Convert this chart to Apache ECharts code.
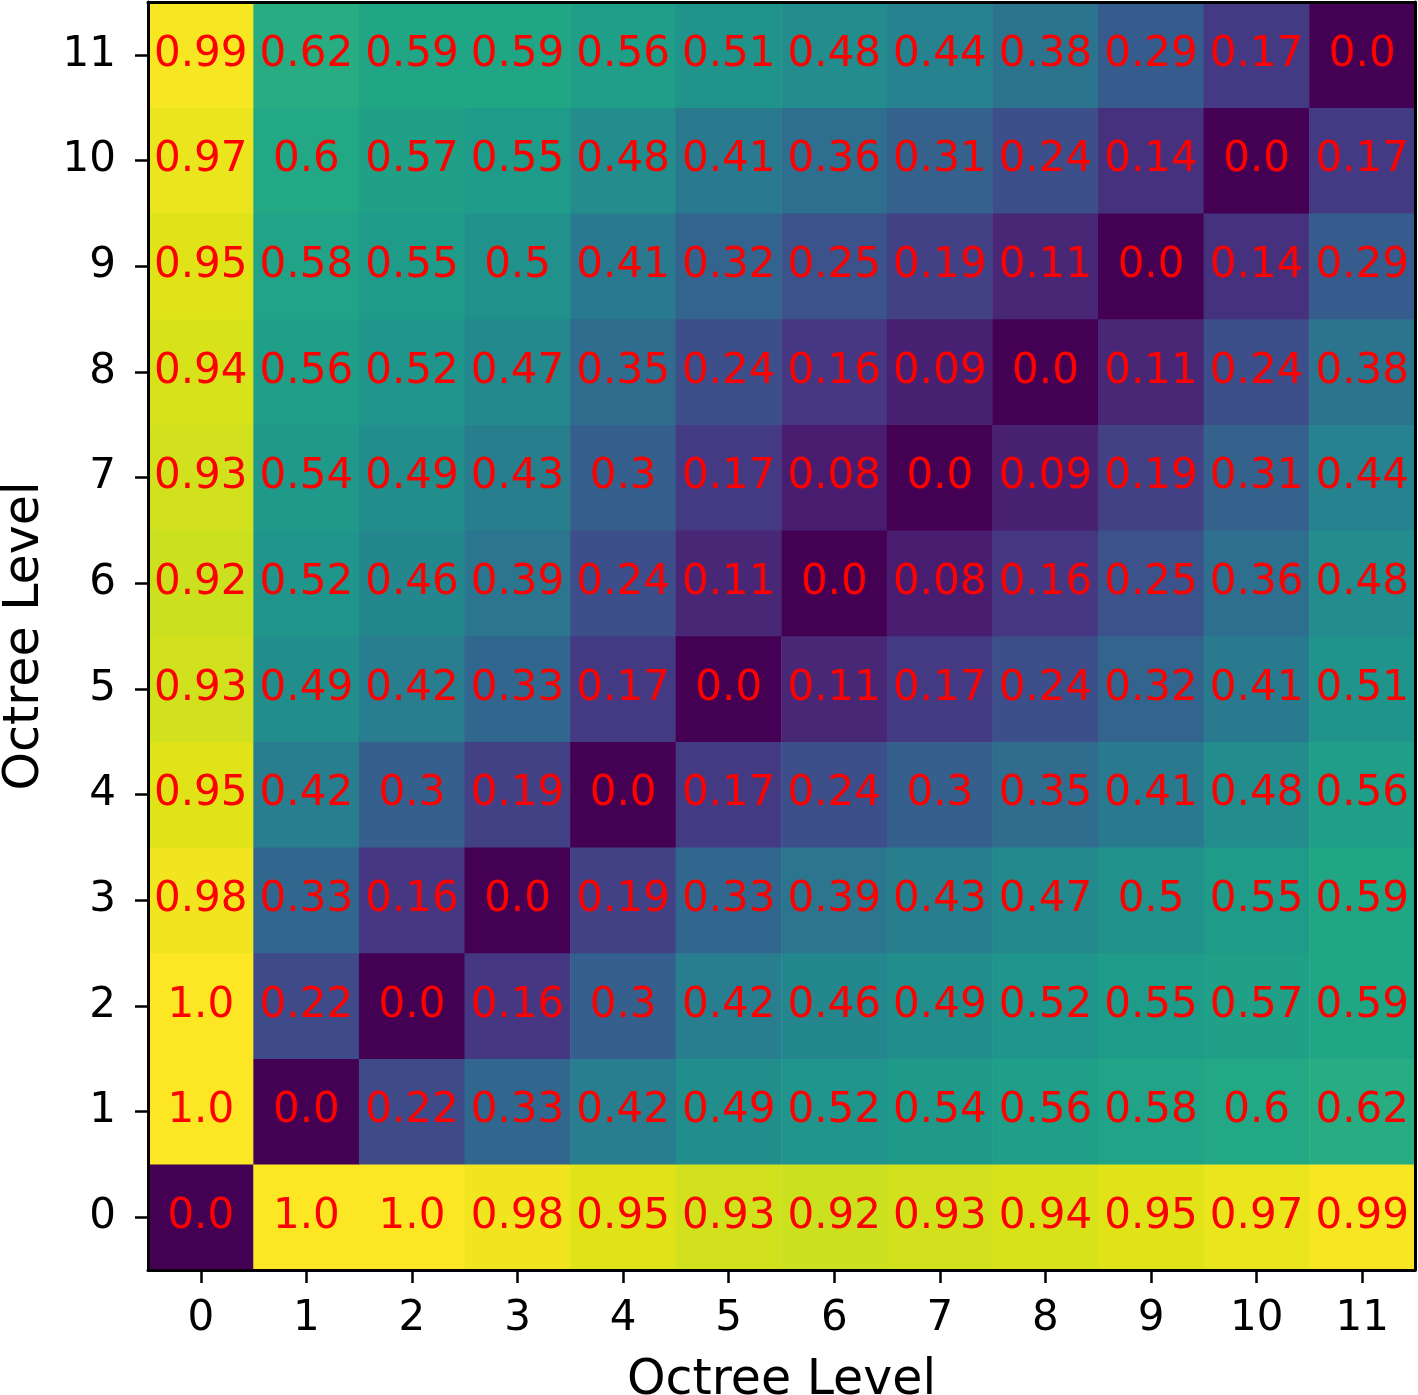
<!DOCTYPE html>
<html>
<head>
<meta charset="utf-8">
<script src="https://cdn.jsdelivr.net/npm/echarts@6/dist/echarts.min.js"></script>
<style>
html,body{margin:0;padding:0;background:#fff;}
#c{width:1418px;height:1395px;}
</style>
</head>
<body>
<div id="c"></div>
<script>
// categories (octree levels)
const levels = ['0','1','2','3','4','5','6','7','8','9','10','11'];
// matrix rows: index = y level (0 at bottom), columns = x level
const row0  = [0.0, 1.0, 1.0, 0.98, 0.95, 0.93, 0.92, 0.93, 0.94, 0.95, 0.97, 0.99];
const row1  = [1.0, 0.0, 0.22, 0.33, 0.42, 0.49, 0.52, 0.54, 0.56, 0.58, 0.6, 0.62];
const row2  = [1.0, 0.22, 0.0, 0.16, 0.3, 0.42, 0.46, 0.49, 0.52, 0.55, 0.57, 0.59];
const row3  = [0.98, 0.33, 0.16, 0.0, 0.19, 0.33, 0.39, 0.43, 0.47, 0.5, 0.55, 0.59];
const row4  = [0.95, 0.42, 0.3, 0.19, 0.0, 0.17, 0.24, 0.3, 0.35, 0.41, 0.48, 0.56];
const row5  = [0.93, 0.49, 0.42, 0.33, 0.17, 0.0, 0.11, 0.17, 0.24, 0.32, 0.41, 0.51];
const row6  = [0.92, 0.52, 0.46, 0.39, 0.24, 0.11, 0.0, 0.08, 0.16, 0.25, 0.36, 0.48];
const row7  = [0.93, 0.54, 0.49, 0.43, 0.3, 0.17, 0.08, 0.0, 0.09, 0.19, 0.31, 0.44];
const row8  = [0.94, 0.56, 0.52, 0.47, 0.35, 0.24, 0.16, 0.09, 0.0, 0.11, 0.24, 0.38];
const row9  = [0.95, 0.58, 0.55, 0.5, 0.41, 0.32, 0.25, 0.19, 0.11, 0.0, 0.14, 0.29];
const row10 = [0.97, 0.6, 0.57, 0.55, 0.48, 0.41, 0.36, 0.31, 0.24, 0.14, 0.0, 0.17];
const row11 = [0.99, 0.62, 0.59, 0.59, 0.56, 0.51, 0.48, 0.44, 0.38, 0.29, 0.17, 0.0];
const rows = [row0,row1,row2,row3,row4,row5,row6,row7,row8,row9,row10,row11];

const viridis = ['#440154','#471365','#482475','#463480','#414487','#3b528b','#355f8d','#2f6c8e','#2a788e','#25848e','#21918c','#1e9c89','#22a884','#2fb47c','#44bf70','#5ec962','#7ad151','#9bd93c','#bddf26','#dfe318','#fde725'];

const data = [];
rows.forEach((r, y) => r.forEach((v, x) => data.push([x, y, v])));

function fmt(v){ return Number.isInteger(v) ? v.toFixed(1) : String(v); }

const FONT = 'DejaVu Sans';
const chart = echarts.init(document.getElementById('c'), null, {renderer:'canvas'});
chart.setOption({
  animation:false,
  backgroundColor:'#fff',
  grid:{left:148, top:2, width:1267, height:1268, containLabel:false, outerBoundsMode:'none'},
  visualMap:{show:false, min:0, max:1, dimension:2, inRange:{color:viridis}},
  xAxis:[{
    type:'category', data:levels, position:'bottom',
    axisLine:{show:true, lineStyle:{color:'#000', width:3}},
    axisTick:{show:true, alignWithLabel:true, length:13, lineStyle:{color:'#000', width:2.5}},
    axisLabel:{color:'#000', fontFamily:FONT, fontSize:42, margin:28},
    splitLine:{show:false},
    name:'Octree Level', nameLocation:'middle', nameGap:87,
    nameTextStyle:{color:'#000', fontFamily:FONT, fontSize:49},
    z:10
  },{
    type:'category', data:levels, position:'top', gridIndex:0,
    axisLine:{show:true, lineStyle:{color:'#000', width:3}},
    axisTick:{show:false}, axisLabel:{show:false}, splitLine:{show:false}, z:10
  }],
  yAxis:[{
    type:'category', data:levels, position:'left',
    axisLine:{show:true, lineStyle:{color:'#000', width:3}},
    axisTick:{show:true, alignWithLabel:true, length:13, lineStyle:{color:'#000', width:2.5}},
    axisLabel:{color:'#000', fontFamily:FONT, fontSize:42, margin:32},
    splitLine:{show:false},
    name:'Octree Level', nameLocation:'middle', nameGap:98, nameRotate:90,
    nameTextStyle:{color:'#000', fontFamily:FONT, fontSize:49},
    z:10
  },{
    type:'category', data:levels, position:'right', gridIndex:0,
    axisLine:{show:true, lineStyle:{color:'#000', width:3}},
    axisTick:{show:false}, axisLabel:{show:false}, splitLine:{show:false}, z:10
  }],
  series:[{
    type:'heatmap', xAxisIndex:0, yAxisIndex:0, data:data,
    label:{show:true, color:'#ff0000', fontFamily:FONT, fontSize:42,
      formatter:p => fmt(p.value[2])},
    itemStyle:{borderWidth:0},
    emphasis:{disabled:true}
  }]
});
</script>
</body>
</html>
